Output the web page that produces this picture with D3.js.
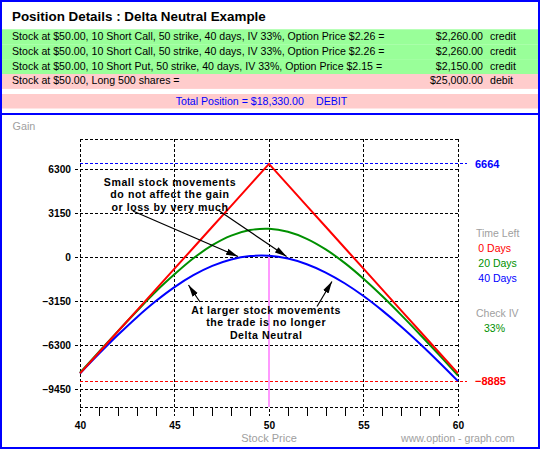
<!DOCTYPE html>
<html><head><meta charset="utf-8">
<script src="https://cdn.jsdelivr.net/npm/d3@7/dist/d3.min.js"></script>
<style>
html,body{margin:0;padding:0;background:#fff;}
svg{display:block;font-family:"Liberation Sans",Arial,sans-serif;}
</style></head><body>
<svg id="chart" width="540" height="449"></svg>
<script>
// ---------- data ----------
const titleText = "Position Details : Delta Neutral Example";
const positionLines = [
  "Stock at $50.00, 10 Short Call, 50 strike, 40 days, IV 33%, Option Price $2.26 =",
  "Stock at $50.00, 10 Short Call, 50 strike, 40 days, IV 33%, Option Price $2.26 =",
  "Stock at $50.00, 10 Short Put, 50 strike, 40 days, IV 33%, Option Price $2.15 =",
  "Stock at $50.00, Long 500 shares ="
];
const positionAmounts = ["$2,260.00", "$2,260.00", "$2,150.00", "$25,000.00"];
const positionTypes = ["credit", "credit", "credit", "debit"];
const totalLabel = "Total Position = $18,330.00";
const totalType = "DEBIT";

const stockPrices = [40,41,42,43,44,45,46,47,48,49,50,51,52,53,54,55,56,57,58,59,60];
const gain0Days  = [-8336,-6836,-5336,-3836,-2336,-836,664,2164,3664,5164,6664,5164,3664,2164,664,-836,-2336,-3836,-5336,-6836,-8336];
const gain20Days = [-8280,-6794,-5322,-3883,-2487,-1238,-90,846,1532,1931,2023,1807,1305,546,-422,-1556,-2814,-4160,-5566,-7004,-8486];
const gain40Days = [-8337,-6933,-5588,-4324,-3172,-2155,-1302,-636,-177,65,85,-111,-516,-1111,-1878,-2794,-3841,-4990,-6226,-7531,-8886];

const yTickValues = [6300, 3150, 0, -3150, -6300, -9450];
const xMajorTicks = [40, 45, 50, 55, 60];
const maxGain = 6664;
const minGain = -8885;
const currentPrice = 50;

const legendTitle = "Time Left";
const seriesNames = ["0 Days", "20 Days", "40 Days"];
const ivTitle = "Check IV";
const ivValue = "33%";

const note1Lines = ["Small stock movements", "do not affect the gain", "or loss by very much"];
const note2Lines = ["At larger stock movements", "the trade is no longer", "Delta Neutral"];

// ---------- layout / style ----------
const W = 540, H = 449;
const plot = {left: 80, right: 458, top: 139, bottom: 407};
const colors = {red: "#ff0000", green: "#009000", blue: "#0000ff", gray: "#a0a0a0",
  rowGreen: "#99ff99", rowPink: "#ffcccc", frame: "#0000ff", magenta: "#ff99ff"};
const seriesColors = [colors.red, colors.green, colors.blue];

const svg = d3.select("#chart");
svg.append("rect").attr("width", W).attr("height", H).attr("fill", "#fff");

// ---------- header panel ----------
svg.append("text").attr("x", 12).attr("y", 20.7)
  .attr("font-size", 13.4).attr("font-weight", "bold").text(titleText);

const rowTop = 29.3, rowH = 14.9;
positionLines.forEach((t, i) => {
  const y0 = rowTop + i * rowH;
  svg.append("rect").attr("x", 2).attr("y", y0).attr("width", W - 4).attr("height", rowH)
    .attr("fill", positionTypes[i] === "credit" ? colors.rowGreen : colors.rowPink);
  svg.append("text").attr("x", 12).attr("y", y0 + 10.4).attr("font-size", 10.6).text(t);
  svg.append("text").attr("x", 483).attr("y", y0 + 10.4).attr("font-size", 10.6)
    .attr("text-anchor", "end").text(positionAmounts[i]);
  svg.append("text").attr("x", 490).attr("y", y0 + 10.4).attr("font-size", 10.6).text(positionTypes[i]);
});
svg.append("rect").attr("x", 2).attr("y", 94).attr("width", W - 4).attr("height", 14.5).attr("fill", colors.rowPink);
svg.append("text").attr("x", 175.7).attr("y", 104.5).attr("font-size", 10.6).attr("fill", colors.blue).text(totalLabel);
svg.append("text").attr("x", 316).attr("y", 104.5).attr("font-size", 10.6).attr("fill", colors.blue).text(totalType);

// frame
svg.append("rect").attr("x", 1).attr("y", 1).attr("width", W - 2).attr("height", H - 2)
  .attr("fill", "none").attr("stroke", colors.frame).attr("stroke-width", 2);
svg.append("line").attr("x1", 0).attr("x2", W).attr("y1", 114).attr("y2", 114)
  .attr("stroke", colors.frame).attr("stroke-width", 2);

// ---------- scales ----------
const x = d3.scaleLinear().domain([40, 60]).range([plot.left, plot.right]);
const y = d3.scaleLinear().domain([-10740, 8450]).range([plot.bottom, plot.top]);

svg.append("text").attr("x", 12.5).attr("y", 130).attr("font-size", 10.8).attr("fill", colors.gray).text("Gain");

const dash = "3,2";
const g = svg.append("g");

// y axis with gridlines (ticks run from right edge to left of plot)
const yAxis = d3.axisLeft(y).tickValues(yTickValues).tickSize(plot.right - 73).tickPadding(2).tickFormat(d3.format("d"));
const ya = g.append("g").attr("transform", `translate(${plot.right},0)`).call(yAxis);
ya.select(".domain").remove();
ya.selectAll(".tick line").attr("stroke", "#000").attr("stroke-dasharray", dash).attr("shape-rendering", "crispEdges");
ya.selectAll(".tick text").attr("font-size", 10.2).attr("font-weight", "bold")
  .attr("font-family", "'Liberation Sans',Arial,sans-serif").attr("fill", "#000").attr("dy", "0.36em");

// top and bottom borders
[plot.top, plot.bottom].forEach(yy => {
  g.append("line").attr("x1", plot.left).attr("x2", plot.right).attr("y1", yy).attr("y2", yy)
    .attr("stroke", "#000").attr("stroke-dasharray", dash).attr("shape-rendering", "crispEdges");
});
// vertical major gridlines
g.selectAll(".vgrid").data(xMajorTicks).join("line").attr("class", "vgrid")
  .attr("x1", d => x(d)).attr("x2", d => x(d)).attr("y1", plot.top).attr("y2", plot.bottom + 9)
  .attr("stroke", "#000").attr("stroke-dasharray", dash).attr("shape-rendering", "crispEdges");

// x axis: minor ticks + labels
const xAxis = d3.axisBottom(x).tickValues(stockPrices).tickSize(-9).tickPadding(5.3)
  .tickFormat(d => xMajorTicks.includes(d) ? d3.format("d")(d) : "");
const xa = g.append("g").attr("transform", `translate(0,${plot.bottom + 9})`).call(xAxis);
xa.select(".domain").remove();
xa.selectAll(".tick line").attr("stroke", d => xMajorTicks.includes(d) ? "none" : "#000").attr("shape-rendering", "crispEdges");
xa.selectAll(".tick text").attr("font-size", 10.2).attr("font-weight", "bold")
  .attr("font-family", "'Liberation Sans',Arial,sans-serif").attr("fill", "#000");

// reference lines max / min
[[maxGain, colors.blue], [minGain, colors.red]].forEach(([v, c]) => {
  g.append("line").attr("x1", plot.left).attr("x2", 467).attr("y1", y(v)).attr("y2", y(v))
    .attr("stroke", c).attr("stroke-dasharray", dash).attr("shape-rendering", "crispEdges");
  g.append("text").attr("x", 475).attr("y", y(v)).attr("dy", "0.36em")
    .attr("font-size", 11).attr("font-weight", "bold").attr("fill", c).text(d3.format("d")(v));
});

// current price marker
const curIdx = stockPrices.indexOf(currentPrice);
g.append("line").attr("x1", x(currentPrice)).attr("x2", x(currentPrice))
  .attr("y1", y(gain40Days[curIdx]) + 1).attr("y2", plot.bottom)
  .attr("stroke", colors.magenta).attr("stroke-width", 2);

// curves
const series = [gain40Days, gain20Days, gain0Days];
const sColors = [colors.blue, colors.green, colors.red];
series.forEach((vals, k) => {
  const line = d3.line().x((d, i) => x(stockPrices[i])).y(d => y(d))
    .curve(k === 2 ? d3.curveLinear : d3.curveCatmullRom);
  g.append("path").attr("d", line(vals)).attr("fill", "none")
    .attr("stroke", sColors[k]).attr("stroke-width", 2);
});

// legend
svg.append("text").attr("x", 476).attr("y", 237.3).attr("font-size", 10.5).attr("fill", colors.gray).text(legendTitle);
seriesNames.forEach((n, i) => {
  svg.append("text").attr("x", 478.3).attr("y", 252.3 + i * 15).attr("font-size", 10.5)
    .attr("fill", seriesColors[i]).text(n);
});
svg.append("text").attr("x", 476).attr("y", 317.3).attr("font-size", 10.5).attr("fill", colors.gray).text(ivTitle);
svg.append("text").attr("x", 484).attr("y", 332).attr("font-size", 10.5).attr("fill", colors.green).text(ivValue);

// axis title & credit
svg.append("text").attr("x", 269).attr("y", 442).attr("text-anchor", "middle").attr("font-size", 11)
  .attr("fill", colors.gray).text("Stock Price");
svg.append("text").attr("x", 401).attr("y", 442).attr("font-size", 10.6)
  .attr("fill", colors.gray).text("www.option - graph.com");

// annotations (positions in data units)
const defs = svg.append("defs");
defs.append("marker").attr("id", "arrow").attr("markerUnits", "userSpaceOnUse")
  .attr("viewBox", "0 -4 12 8").attr("refX", 12).attr("refY", 0)
  .attr("markerWidth", 12).attr("markerHeight", 8).attr("orient", "auto")
  .append("path").attr("d", "M0,-3.2L12,0L0,3.2Z").attr("fill", "#000");

const notes = [
  {lines: note1Lines, cx: 44.76, cy: 5100},
  {lines: note2Lines, cx: 49.85, cy: -4080}
];
notes.forEach(n => {
  n.lines.forEach((t, i) => {
    svg.append("text").attr("x", x(n.cx)).attr("y", y(n.cy) + i * 12.4)
      .attr("text-anchor", "middle").attr("font-size", 10.6).attr("letter-spacing", 0.55)
      .attr("font-weight", "bold").text(t);
  });
});
const arrows = [
  {from: [42.80, 3294], to: [48.36, 36]},
  {from: [47.30, 3365], to: [50.93, 36]},
  {from: [46.35, -3222], to: [45.74, -2005]},
  {from: [52.54, -3544], to: [53.33, -1754]}
];
arrows.forEach(a => {
  svg.append("line").attr("x1", x(a.from[0])).attr("y1", y(a.from[1]))
    .attr("x2", x(a.to[0])).attr("y2", y(a.to[1]))
    .attr("stroke", "#000").attr("stroke-width", 1.2).attr("marker-end", "url(#arrow)");
});
</script>
</body></html>
